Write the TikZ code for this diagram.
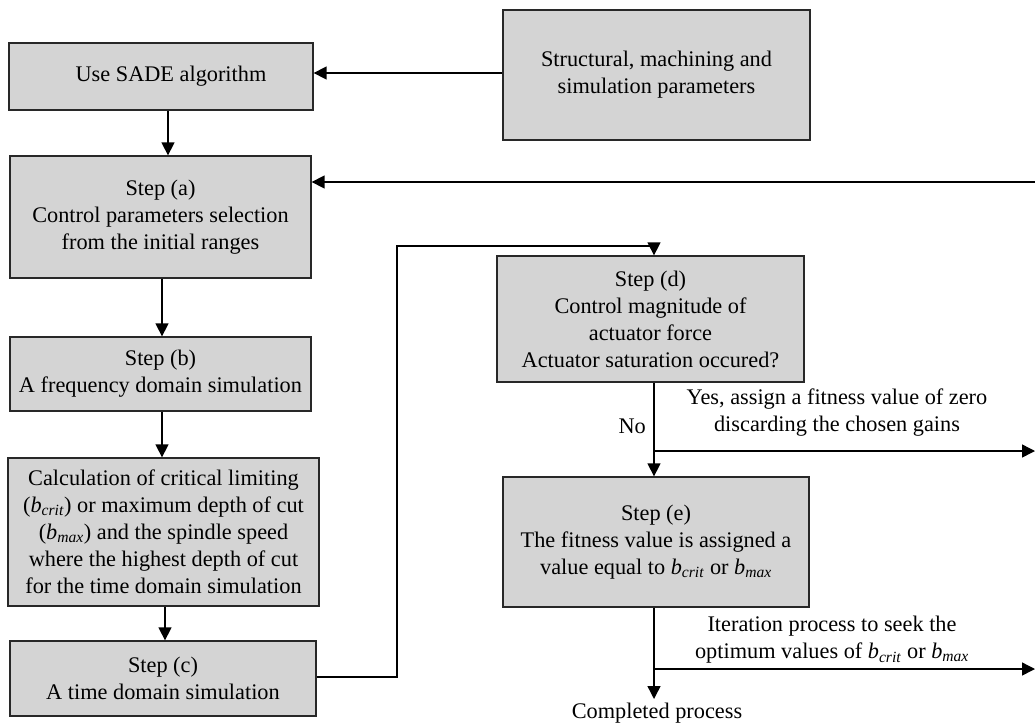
\documentclass[tikz,border=0pt]{standalone}
\usepackage{fontspec}
\setmainfont{Liberation Serif}
\usetikzlibrary{arrows.meta}
\definecolor{boxgray}{RGB}{212,212,212}
\definecolor{edgegray}{RGB}{40,40,40}
\newcommand{\bsub}[1]{\textit{b}\textsubscript{\textit{#1}}}
\begin{document}
\begin{tikzpicture}[x=1pt,y=-1pt,
  font=\fontsize{22.3}{27}\selectfont,
  stepbox/.style={draw=edgegray, line width=1.3pt, fill=boxgray, rectangle, align=center, inner sep=0pt},
  arr/.style={line width=1.4pt, -{Triangle[width=13pt,length=13pt]}},
  ln/.style={line width=1.4pt},
  lbl/.style={align=center, inner sep=0pt}]
\useasboundingbox (0,0) rectangle (1035,725);

\node[stepbox, minimum width=304pt, minimum height=67pt] (sade) at (161,76.5) {\hspace*{20pt}Use SADE algorithm};
\node[stepbox, minimum width=307pt, minimum height=130pt] (struct) at (656.5,75) {Structural, machining and\\simulation parameters};
\node[stepbox, minimum width=301pt, minimum height=122pt] (a) at (160.5,217) {Step (a)\\Control parameters selection\\from the initial ranges};
\node[stepbox, minimum width=301pt, minimum height=74pt] (b) at (160.5,374) {Step (b)\\A frequency domain simulation};
\node[stepbox, minimum width=311pt, minimum height=148pt] (calc) at (163.5,532) {\fontsize{22.3}{29}\selectfont Calculation of critical limiting\\(\bsub{crit}) or maximum depth of cut\\(\bsub{max}) and the spindle speed\\where the highest depth of cut\\for the time domain simulation};
\node[stepbox, minimum width=306pt, minimum height=75pt] (c) at (163,678.5) {Step (c)\\A time domain simulation};
\node[stepbox, minimum width=307pt, minimum height=126pt] (d) at (650.5,319) {Step (d)\\Control magnitude of\\actuator force\\Actuator saturation occured?};
\node[stepbox, minimum width=306pt, minimum height=130pt] (e) at (656,542) {Step (e)\\The fitness value is assigned a\\value equal to \bsub{crit} or \bsub{max}};

\coordinate (fb) at (1035,182);
\coordinate (cturn1) at (397,677);
\coordinate (cturn2) at (397,246);
\coordinate (dtop) at (654,246);
\coordinate (ybr) at (654,451);
\coordinate (yend) at (1035,451);
\coordinate (ibr) at (654,669);
\coordinate (iend) at (1035,669);
\coordinate (done) at (654,699);

% arrows
\draw[arr] (struct.west |- 0,73) -- (sade.east |- 0,73);
\draw[arr] ([xshift=7pt]sade.south) -- ([xshift=7pt]sade.south |- a.north);
\draw[arr] ([xshift=1.5pt]a.south) -- ([xshift=1.5pt]a.south |- b.north);
\draw[arr] ([xshift=1.5pt]b.south) -- ([xshift=1.5pt]b.south |- calc.north);
\draw[arr] ([xshift=1.5pt]calc.south) -- ([xshift=1.5pt]calc.south |- c.north);
\draw[arr] (fb) -- (fb -| a.east);
\draw[ln] (c.east |- cturn1) -- (cturn1) -- (cturn2) -- (dtop);
\draw[arr] (dtop) -- (dtop |- d.north);
\draw[arr] (dtop |- d.south) -- (dtop |- e.north);
\draw[arr] (ybr) -- (yend);
\draw[arr] (dtop |- e.south) -- (done);
\draw[arr] (ibr) -- (iend);

% labels
\node[lbl, anchor=east] (no) at (646,426) {No};
\node[lbl] (yes) at (837,413) {Yes, assign a fitness value of zero\\discarding the chosen gains};
\node[lbl] (iter) at (832,640) {Iteration process to seek the\\optimum values of \bsub{crit} or \bsub{max}};
\node[lbl] (comp) at (657,713) {Completed process};
\end{tikzpicture}
\end{document}
